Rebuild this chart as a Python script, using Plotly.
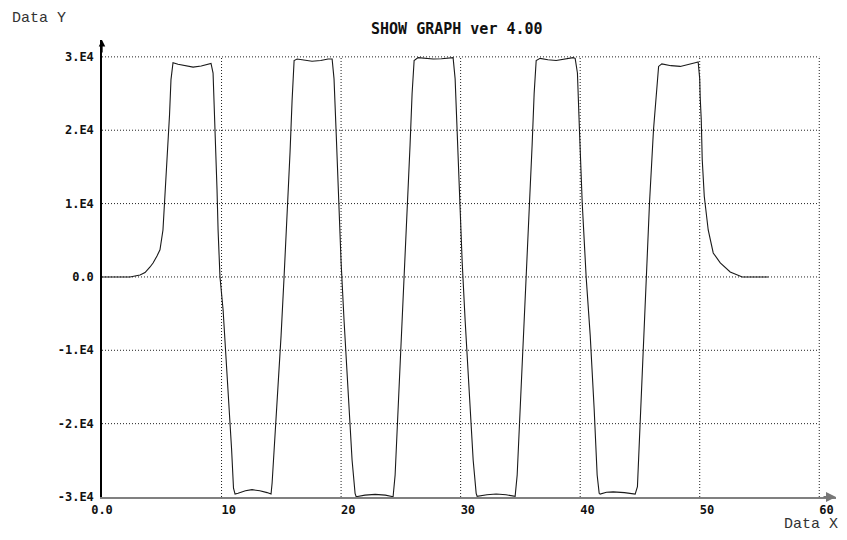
import plotly.graph_objects as go

# ---- data ----
data_x = [0.00, 2.34, 3.18, 3.60, 4.02, 4.27, 4.60, 4.85, 5.10, 5.36, 5.52, 5.65, 5.77, 5.94,
          6.36, 7.00, 7.62, 8.30, 8.87, 9.12, 9.29, 9.41, 9.54, 9.62, 9.71, 9.87, 10.13, 10.63,
          10.84, 11.00, 11.13, 11.38, 12.00, 12.55, 13.20, 13.81, 14.14, 14.23, 14.35, 14.48,
          14.64, 14.98, 15.23, 15.48, 15.73, 15.90, 16.07, 16.32, 17.00, 17.57, 18.30, 18.91,
          19.25, 19.41, 19.58, 19.75, 20.00, 20.25, 20.59, 20.92, 21.17, 21.26, 22.00, 22.85,
          23.70, 24.35, 24.52, 24.69, 24.94, 25.27, 25.52, 25.77, 25.94, 26.11, 26.44, 27.10,
          27.70, 28.40, 29.04, 29.37, 29.54, 29.71, 29.87, 30.13, 30.38, 30.71, 31.05, 31.30,
          31.38, 32.20, 32.97, 33.80, 34.56, 34.73, 34.90, 35.15, 35.48, 35.73, 35.98, 36.15,
          36.32, 36.65, 37.30, 37.99, 38.70, 39.41, 39.58, 39.77, 39.94, 40.17, 40.50, 40.84,
          41.17, 41.42, 41.59, 41.67, 42.20, 42.76, 43.70, 44.60, 44.79, 45.02, 45.30, 45.52,
          45.80, 46.13, 46.42, 46.56, 46.83, 47.60, 48.37, 49.00, 49.62, 49.87, 50.00, 50.04,
          50.13, 50.21, 50.38, 50.71, 51.13, 51.72, 52.55, 53.56, 55.73]
data_y = [0, 0, 270, 590, 1360, 1900, 2860, 3700, 6400, 13200, 17300, 22100, 26900, 29200,
          29000, 28750, 28600, 28750, 29000, 29100, 27800, 22500, 17500, 12000, 6400, 0, -4500, -16800,
          -23500, -28800, -29600, -29500, -29150, -29000, -29150, -29400, -29600, -28100, -25000, -20500,
          -16800, -8000, 0, 8000, 17000, 24000, 29500, 29700, 29500, 29400, 29500, 29700,
          29700, 27000, 20000, 12000, 2000, -6000, -16000, -25000, -29500, -29960, -29750, -29640,
          -29750, -29960, -27000, -21000, -12000, -1000, 8000, 18000, 25000, 29500, 29900, 29750,
          29700, 29750, 29900, 29900, 27000, 20000, 12000, 2000, -6000, -16000, -25000, -29500,
          -29900, -29700, -29600, -29700, -29900, -27000, -21000, -12000, -1000, 8000, 18000, 25000,
          29500, 29800, 29600, 29500, 29650, 29900, 29800, 27800, 20000, 10100, 0, -8000,
          -18000, -27000, -29500, -29600, -29350, -29300, -29400, -29600, -28600, -20000, -10000, -400,
          10100, 20000, 26400, 28700, 29050, 28800, 28700, 28900, 29200, 29300, 27000, 24500,
          21400, 16000, 11000, 6400, 3270, 1910, 680, 0, 0]

x_tick_vals = [0, 10, 20, 30, 40, 50, 60]
x_tick_text = ["0.0", "10", "20", "30", "40", "50", "60"]
y_tick_vals = [-30000, -20000, -10000, 0, 10000, 20000, 30000]
y_tick_text = ["-3.E4", "-2.E4", "-1.E4", "0.0", "1.E4", "2.E4", "3.E4"]
title_text = "SHOW GRAPH ver 4.00"
x_label = "Data X"
y_label = "Data Y"

x_range = [0, 61.4]
y_range = [-30000, 32300]

tick_font = dict(family="DejaVu Sans Mono", size=12, color="#111", weight="bold")

# x labels: left-aligned at the tick (pad with no-break spaces), except the first
x_tick_disp = [x_tick_text[0]] + ["\u00a0" * len(t) + t for t in x_tick_text[1:]]

fig = go.Figure()
fig.add_trace(go.Scatter(x=data_x, y=data_y, mode="lines",
                         line=dict(color="#1a1a1a", width=1.1), hoverinfo="skip",
                         showlegend=False))

# dotted grid limited to the tick span
shapes = []
for xv in x_tick_vals[1:]:
    shapes.append(dict(type="line", xref="x", yref="y", x0=xv, x1=xv,
                       y0=y_tick_vals[0], y1=y_tick_vals[-1], layer="below",
                       line=dict(color="#222", width=1, dash="1px,2px")))
for yv in y_tick_vals[1:]:
    shapes.append(dict(type="line", xref="x", yref="y", x0=x_tick_vals[0], x1=x_tick_vals[-1],
                       y0=yv, y1=yv, layer="below",
                       line=dict(color="#222", width=1, dash="1px,2px")))

annotations = [
    dict(text=title_text, xref="paper", yref="paper", x=0.4837, y=1.024,
         xanchor="center", yanchor="middle", showarrow=False,
         font=dict(family="DejaVu Sans Mono", size=15, color="#111", weight="bold")),
    dict(text=y_label, xref="paper", yref="paper", x=-0.1253, y=1.048,
         xanchor="left", yanchor="middle", showarrow=False,
         font=dict(family="Liberation Mono", size=15, color="#333")),
    dict(text=x_label, xref="paper", yref="paper", x=1.0054, y=-0.0591,
         xanchor="right", yanchor="middle", showarrow=False,
         font=dict(family="Liberation Mono", size=15, color="#333")),
    # axis arrowheads
    dict(text="", xref="paper", yref="paper", x=0, y=1, ax=0, ay=14,
         showarrow=True, arrowhead=2, arrowsize=1, arrowwidth=1.3, arrowcolor="#000",
         standoff=0),
    dict(text="", xref="paper", yref="paper", x=1, y=0, ax=-14, ay=0,
         showarrow=True, arrowhead=2, arrowsize=1, arrowwidth=2, arrowcolor="#777",
         standoff=0),
]

# the page adds an 8px body margin, so the figure is sized and offset to fit the window
fig.update_layout(
    width=839, height=532, autosize=False,
    margin=dict(l=94, r=11, t=32, b=43, pad=0),
    paper_bgcolor="white", plot_bgcolor="white",
    shapes=shapes, annotations=annotations,
    showlegend=False,
)
fig.update_xaxes(range=x_range, tickvals=x_tick_vals, ticktext=x_tick_disp,
                 showgrid=False, zeroline=False, showline=True, linecolor="#808080",
                 linewidth=2, ticks="", tickfont=tick_font, ticklabelstandoff=1,
                 automargin=False, fixedrange=True)
fig.update_yaxes(range=y_range, tickvals=y_tick_vals, ticktext=y_tick_text,
                 showgrid=False, zeroline=False, showline=True, linecolor="#000",
                 linewidth=1.5, ticks="", tickfont=tick_font, ticklabelstandoff=4,
                 automargin=False, fixedrange=True)

fig.write_html("out.html", config={"displayModeBar": False})
